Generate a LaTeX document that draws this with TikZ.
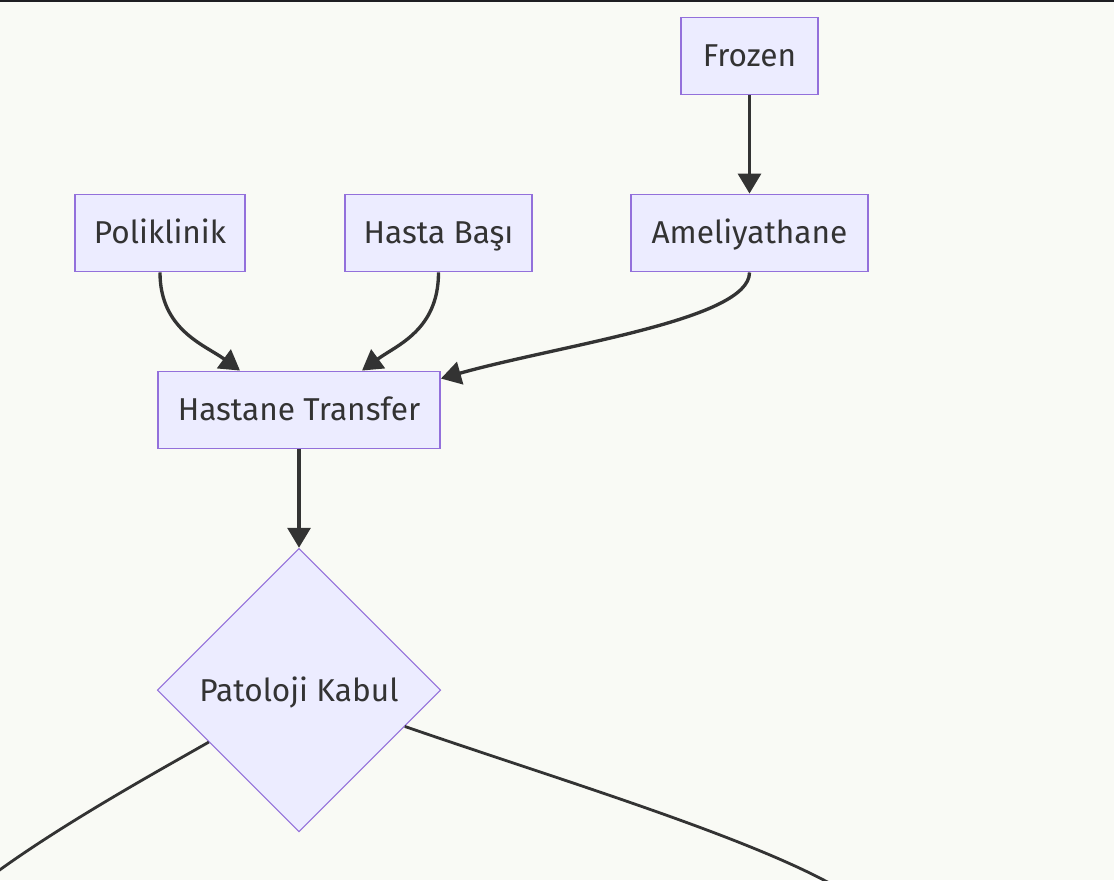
\documentclass[tikz,border=0pt]{standalone}
\usepackage{fontspec}
\setmainfont{Fira Sans}
\usetikzlibrary{arrows.meta,shapes.geometric}
\definecolor{nodefill}{HTML}{ECECFF}
\definecolor{nodeline}{HTML}{9370DB}
\definecolor{inkgray}{HTML}{333333}
\definecolor{paper}{HTML}{F9FAF5}
\definecolor{topbar}{HTML}{1E1E22}
\tikzset{
	stepbox/.style={draw=nodeline, fill=nodefill, line width=1.1pt, text=inkgray,
		minimum height=1.54cm, inner xsep=0.2cm, text height=15pt, text depth=2.5pt,
		font=\fontsize{18}{20}\selectfont},
	decision/.style={diamond, aspect=1, draw=nodeline, fill=nodefill, line width=0.6pt,
		text=inkgray, minimum size=5.67cm, inner sep=0pt, text height=15pt, text depth=2.5pt,
		font=\fontsize{18}{20}\selectfont},
	flow/.style={draw=inkgray, line width=1.9pt, -{Triangle[length=0.4cm,width=0.46cm]}},
	link/.style={draw=inkgray, line width=1.6pt}
}
\begin{document}
\begin{tikzpicture}[x=0.02cm, y=-0.02cm]
	\useasboundingbox (0,0) rectangle (1114,880);
	\clip (0,0) rectangle (1114,880);
	\fill[paper] (0,0) rectangle (1114,880);
	\fill[topbar] (0,0) rectangle (1114,2);
	% sources
	\node[stepbox, minimum width=2.74cm] (frozen) at (749.5,56) {Frozen};
	\node[stepbox, minimum width=3.4cm] (poli) at (160,233) {Poliklinik};
	\node[stepbox, minimum width=3.74cm] (basi) at (438.5,233) {Hasta Başı};
	\node[stepbox, minimum width=4.74cm] (ameli) at (749.5,233) {Ameliyathane};
	% transfer and acceptance
	\node[stepbox, minimum width=5.64cm] (transfer) at (299,410) {Hastane Transfer};
	\node[decision] (kabul) at (299,690) {Patoloji Kabul};
	\coordinate (leftout) at (-10,877);
	\coordinate (rightout) at (845,892);
	% edges
	\draw[flow] (frozen) -- (ameli);
	\draw[flow] (poli.south) .. controls (160,330) and (205,345) .. (transfer.north -| 240,0);
	\draw[flow] (basi.south) .. controls (438.5,330) and (397,345) .. (transfer.north -| 362,0);
	\draw[flow] (ameli.south) .. controls (749.5,320) and (560,345) .. ([yshift=-0.16cm]transfer.north east);
	\draw[flow] (transfer) -- (kabul);
	\draw[link] (kabul.210) .. controls (160,770) and (60,825) .. (leftout);
	\draw[link] (kabul.-19) .. controls (560,780) and (760,840) .. (rightout);
\end{tikzpicture}
\end{document}
